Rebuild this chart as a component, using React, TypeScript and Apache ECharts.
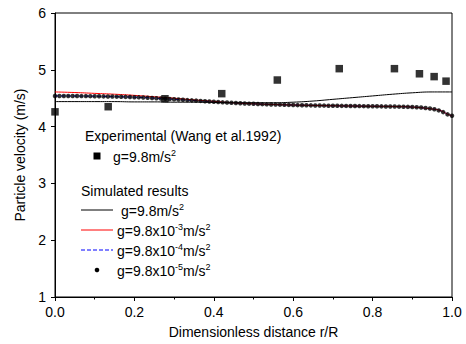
import React, { useEffect, useRef } from "react";
import * as echarts from "echarts";

const expX = [0.0, 0.134, 0.277, 0.42, 0.56, 0.716, 0.855, 0.918, 0.955, 0.985];
const expY = [4.26, 4.35, 4.49, 4.58, 4.82, 5.02, 5.02, 4.93, 4.88, 4.8];

const lineX = [0, 0.05, 0.1, 0.15, 0.2, 0.25, 0.3, 0.35, 0.4, 0.45, 0.5, 0.55, 0.6, 0.65, 0.7, 0.75, 0.8, 0.85, 0.9, 0.95, 0.97, 0.99, 1.0];
const blackY = [4.44, 4.44, 4.44, 4.44, 4.435, 4.435, 4.43, 4.43, 4.425, 4.42, 4.42, 4.42, 4.43, 4.45, 4.48, 4.51, 4.54, 4.57, 4.595, 4.61, 4.61, 4.61, 4.61];
const redY = [4.61, 4.6, 4.585, 4.57, 4.55, 4.525, 4.5, 4.47, 4.445, 4.418, 4.401, 4.389, 4.38, 4.373, 4.367, 4.362, 4.358, 4.354, 4.344, 4.31, 4.285, 4.215, 4.19];
const blueY = [4.54, 4.538, 4.535, 4.527, 4.518, 4.502, 4.482, 4.46, 4.437, 4.417, 4.401, 4.389, 4.38, 4.373, 4.367, 4.362, 4.358, 4.354, 4.344, 4.31, 4.285, 4.215, 4.19];

const dotY = [
  4.54, 4.54, 4.539, 4.539, 4.538, 4.538, 4.537, 4.537, 4.536, 4.535,
  4.534, 4.532, 4.531, 4.529, 4.527, 4.525, 4.523, 4.521, 4.518, 4.515,
  4.512, 4.508, 4.504, 4.5, 4.496, 4.492, 4.487, 4.482, 4.477, 4.472,
  4.467, 4.462, 4.457, 4.452, 4.447, 4.442, 4.437, 4.432, 4.427, 4.423,
  4.419, 4.415, 4.411, 4.407, 4.404, 4.401, 4.398, 4.395, 4.392, 4.39,
  4.388, 4.386, 4.384, 4.382, 4.38, 4.378, 4.377, 4.375, 4.374, 4.372,
  4.371, 4.37, 4.368, 4.367, 4.366, 4.365, 4.364, 4.363, 4.362, 4.361,
  4.36, 4.359, 4.358, 4.357, 4.356, 4.355, 4.354, 4.353, 4.351, 4.349,
  4.347, 4.344, 4.34, 4.335, 4.328, 4.318, 4.305, 4.285, 4.255, 4.215,
  4.19,
];
const dotStep = 1 / 90;

const FONT = "Liberation Sans, Arial, sans-serif";

export default function App() {
  const ref = useRef<HTMLDivElement>(null);
  useEffect(() => {
    const chart = echarts.init(ref.current!, null, { renderer: "svg" });
    const rich = {
      a: { fontSize: 14, fontFamily: FONT, color: "#000", lineHeight: 16, verticalAlign: "bottom" },
      s: { fontSize: 9, fontFamily: FONT, color: "#000", lineHeight: 9, verticalAlign: "top" },
    };
    const txt = (x: number, y: number, text: string) => ({
      type: "text",
      x,
      y,
      style: { text, rich, verticalAlign: "middle", align: "left", fill: "#000", font: `14px ${FONT}` },
      z: 100,
    });
    const ln = (y: number, color: string, dash?: number[]) => ({
      type: "line",
      shape: { x1: 81, y1: y, x2: 113, y2: y },
      style: { stroke: color, lineWidth: 1, lineDash: dash },
      z: 100,
    });
    chart.setOption({
      animation: false,
      backgroundColor: "#fff",
      grid: { left: 55, right: 14, top: 13, bottom: 46, show: true, borderColor: "#000", borderWidth: 1 },
      xAxis: {
        type: "value",
        min: 0,
        max: 1,
        interval: 0.2,
        name: "Dimensionless distance r/R",
        nameLocation: "middle",
        nameGap: 28,
        nameTextStyle: { fontSize: 14, fontFamily: FONT, color: "#000" },
        axisLine: { show: true, lineStyle: { color: "#000", width: 1 } },
        axisTick: { show: true, inside: false, length: 4, lineStyle: { color: "#000" } },
        minorTick: { show: true, splitNumber: 2, length: 2.5, lineStyle: { color: "#000" } },
        splitLine: { show: false },
        axisLabel: { fontSize: 14, fontFamily: FONT, color: "#000", margin: 8, formatter: (v: number) => v.toFixed(1) },
      },
      yAxis: {
        type: "value",
        min: 1,
        max: 6,
        interval: 1,
        name: "Particle velocity (m/s)",
        nameLocation: "middle",
        nameGap: 26,
        nameTextStyle: { fontSize: 14, fontFamily: FONT, color: "#000" },
        axisLine: { show: true, lineStyle: { color: "#000", width: 1 } },
        axisTick: { show: true, inside: false, length: 4, lineStyle: { color: "#000" } },
        splitLine: { show: false },
        axisLabel: { fontSize: 14, fontFamily: FONT, color: "#000", margin: 9 },
      },
      series: [
        {
          type: "line",
          data: lineX.map((x, i) => [x, blueY[i]]),
          smooth: true,
          showSymbol: false,
          lineStyle: { color: "#0000ff", width: 1, type: "dashed" },
          z: 2,
        },
        {
          type: "line",
          data: lineX.map((x, i) => [x, redY[i]]),
          smooth: true,
          showSymbol: false,
          lineStyle: { color: "#ff0000", width: 1 },
          z: 3,
        },
        {
          type: "line",
          data: lineX.map((x, i) => [x, blackY[i]]),
          smooth: true,
          showSymbol: false,
          lineStyle: { color: "#000", width: 1 },
          z: 4,
        },
        {
          type: "scatter",
          data: dotY.map((y, i) => [i * dotStep, y]),
          symbol: "circle",
          symbolSize: 4.5,
          itemStyle: { color: "#000" },
          z: 5,
        },
        {
          type: "scatter",
          data: expX.map((x, i) => [x, expY[i]]),
          symbol: "rect",
          symbolSize: 7.5,
          itemStyle: { color: "#000" },
          z: 6,
        },
      ],
      graphic: [
        txt(85, 135, "{a|Experimental (Wang et al.1992)}"),
        { type: "rect", shape: { x: 93.5, y: 152.5, width: 7, height: 7 }, style: { fill: "#000" }, z: 100 },
        txt(113, 156, "{a|g=9.8m/s}{s|2}"),
        txt(81, 190, "{a|Simulated results}"),
        ln(210, "#000"),
        txt(121, 210, "{a|g=9.8m/s}{s|2}"),
        ln(230, "#ff0000"),
        txt(117, 230, "{a|g=9.8x10}{s|-3}{a|m/s}{s|2}"),
        ln(250, "#0000ff", [4, 2]),
        txt(117, 250, "{a|g=9.8x10}{s|-4}{a|m/s}{s|2}"),
        { type: "circle", shape: { cx: 97, cy: 270, r: 2.3 }, style: { fill: "#000" }, z: 100 },
        txt(117, 270, "{a|g=9.8x10}{s|-5}{a|m/s}{s|2}"),
      ],
    });
    return () => chart.dispose();
  }, []);
  return <div ref={ref} style={{ position: "absolute", left: 0, top: 0, width: 466, height: 344 }} />;
}
